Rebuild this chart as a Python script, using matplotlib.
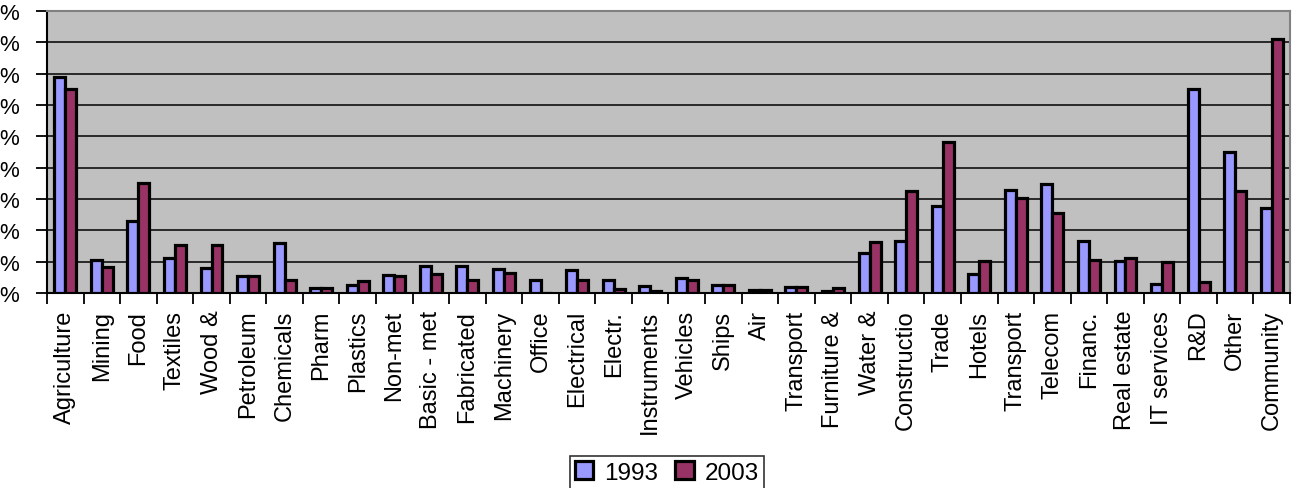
import matplotlib.pyplot as plt
import numpy as np

plt.rcParams['font.family'] = ['Liberation Sans', 'DejaVu Sans']

sectors = ['Agriculture', 'Mining', 'Food', 'Textiles', 'Wood &', 'Petroleum',
           'Chemicals', 'Pharm', 'Plastics', 'Non-met', 'Basic - met', 'Fabricated',
           'Machinery', 'Office', 'Electrical', 'Electr.', 'Instruments', 'Vehicles',
           'Ships', 'Air', 'Transport', 'Furniture &', 'Water &', 'Constructio',
           'Trade', 'Hotels', 'Transport', 'Telecom', 'Financ.', 'Real estate',
           'IT services', 'R&D', 'Other', 'Community']

# values in gridline units (axis labels in the source are truncated to "%")
v1993 = [6.88, 1.05, 2.3, 1.12, 0.8, 0.55, 1.58, 0.15, 0.27, 0.57, 0.85, 0.85,
         0.78, 0.42, 0.72, 0.42, 0.23, 0.48, 0.25, 0.08, 0.2, 0.07, 1.28, 1.66,
         2.78, 0.6, 3.3, 3.48, 1.66, 1.03, 0.3, 6.5, 4.5, 2.72]
v2003 = [6.52, 0.83, 3.51, 1.53, 1.53, 0.55, 0.42, 0.15, 0.37, 0.55, 0.6, 0.42,
         0.64, 0.0, 0.42, 0.14, 0.07, 0.42, 0.25, 0.08, 0.2, 0.16, 1.63, 3.27,
         4.82, 1.03, 3.03, 2.56, 1.04, 1.12, 1.0, 0.35, 3.25, 8.1]
yticks = np.arange(0, 10)
ylabels = ['%'] * len(yticks)

x = np.arange(len(sectors))
w = 0.3

fig = plt.figure(figsize=(12.96, 4.89), dpi=100)
ax = fig.add_axes([47/1296, 1-294/489, (1290-47)/1296, (294-12)/489])
ax.set_facecolor('#c0c0c0')

ax.bar(x - w/2, v1993, w, color='#9999ff', edgecolor='black', linewidth=2.3, label='1993', zorder=3)
ax.bar(x + w/2, v2003, w, color='#993366', edgecolor='black', linewidth=2.3, label='2003', zorder=3)

ax.set_xlim(-0.5, len(sectors) - 0.5)
ax.set_ylim(0, 9)
ax.set_yticks(yticks)
ax.set_yticklabels(ylabels, fontsize=16)
ax.yaxis.grid(True, color='black', linewidth=1.1, zorder=1)
ax.set_axisbelow(True)

ax.set_xticks(x)
ax.set_xticklabels(sectors, rotation=90, fontsize=17)
ax.set_xticks(np.arange(-0.5, len(sectors)), minor=True)
ax.tick_params(axis='x', which='major', length=0, pad=12)
ax.tick_params(axis='x', which='minor', length=8, width=1.3, direction='out')
ax.tick_params(axis='y', length=8, width=1.3, direction='out', pad=12)

for s in ['left', 'bottom']:
    ax.spines[s].set_color('black')
    ax.spines[s].set_linewidth(1.5)
for s in ['top', 'right']:
    ax.spines[s].set_color('#808080')
    ax.spines[s].set_linewidth(1.5)

leg = fig.legend(loc='upper center', bbox_to_anchor=(667/1296, 1-452/489), ncol=2,
                 fontsize=17.5, frameon=True, fancybox=False, edgecolor='black',
                 handlelength=0.75, handleheight=0.75, handletextpad=0.45,
                 columnspacing=0.7, borderpad=0.22, borderaxespad=0.2)
leg.get_frame().set_linewidth(1.2)

fig.savefig('out.png', dpi=100)
